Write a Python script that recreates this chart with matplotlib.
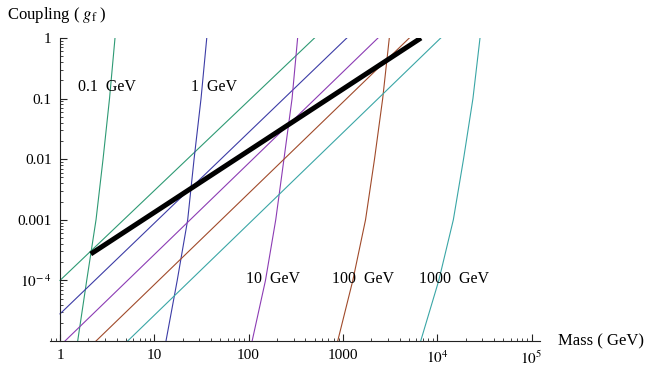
import numpy as np
import matplotlib
matplotlib.use("Agg")
import matplotlib.pyplot as plt
from matplotlib.ticker import LogLocator, NullFormatter

plt.rcParams['font.family'] = ['Liberation Serif', 'DejaVu Serif']
plt.rcParams['mathtext.fontset'] = 'stix'

# mediator masses (GeV) and colours of their curves
mass_labels = ['0.1', '1', '10', '100', '1000']
colors = ['#2e9a74', '#3c3ca6', '#8c3cb4', '#a04a2a', '#3aa6a6']

# steep curves: mass (GeV) where each curve crosses these couplings
g_levels = [1e-5, 1e-4, 1e-3, 1e-2, 1e-1, 1.0]
steep_M = [
    [1.54, 1.92, 2.41, 2.86, 3.35, 3.83],
    [13.3, 17.5, 22.6, 26.4, 31.3, 36.0],
    [109, 151, 194, 237, 289, 331],
    [881, 1274, 1738, 2163, 2642, 3105],
    [6683, 10400, 14830, 19010, 23930, 28440],
]

# diagonal lines: end points (mass, coupling)
diag_M = [[1, 500], [1, 1100], [1.13, 2355], [2.41, 5060], [5.22, 10900]]
diag_g = [[1e-4, 1], [2.8e-5, 1], [1e-5, 1], [1e-5, 1], [1e-5, 1]]

# thick black line
black_M = [2.12, 6730]
black_g = [2.73e-4, 1]

# label centres (mass, coupling)
label_M = [10**0.498, 10**1.638, 10**2.264, 10**3.216, 10**4.183]
label_g = [10**-0.809, 10**-0.809, 10**-3.977, 10**-3.977, 10**-3.977]

yticks = [1e-4, 1e-3, 1e-2, 1e-1, 1]
ytick_labels = [r'$10^{-\,4}$', '0.001', '0.01', '0.1', '1']
xticks = [1, 10, 100, 1000, 1e4, 1e5]
xtick_labels = ['1', '10', '100', '1000', r'$10^{4}$', r'$10^{5}$']

fig = plt.figure(figsize=(6.49, 3.66), dpi=100)
ax = fig.add_axes([50 / 649, 25 / 366, 490 / 649, 303 / 366])
ax.set_xscale('log')
ax.set_yscale('log')
ax.set_xlim(10 ** (-10 / 94.3), 10 ** (480 / 94.3))
ax.set_ylim(1e-5, 1)

for i in range(len(mass_labels)):
    ax.plot(diag_M[i], diag_g[i], color=colors[i], lw=0.8)
    ax.plot(steep_M[i], g_levels, color=colors[i], lw=0.8)

ax.plot(black_M, black_g, color='black', lw=3.6, solid_capstyle='butt')

for i in range(len(mass_labels)):
    ax.text(label_M[i], label_g[i], mass_labels[i] + '  GeV', fontsize=11.5,
            ha='center', va='center')

for s in ['top', 'right']:
    ax.spines[s].set_visible(False)
ax.spines['left'].set_position(('data', 1))
for s in ['left', 'bottom']:
    ax.spines[s].set_linewidth(0.8)
    ax.spines[s].set_color('#222222')

ax.set_yticks(yticks)
ax.set_yticklabels(ytick_labels)
ax.set_xticks(xticks)
ax.set_xticklabels(xtick_labels)
ax.yaxis.set_minor_locator(LogLocator(base=10, subs=np.arange(2, 10), numticks=20))
ax.xaxis.set_minor_locator(LogLocator(base=10, subs=np.arange(2, 10), numticks=20))
ax.yaxis.set_minor_formatter(NullFormatter())
ax.xaxis.set_minor_formatter(NullFormatter())
ax.tick_params(which='major', direction='in', length=5, width=0.8, labelsize=11,
               color='#222222')
ax.tick_params(which='minor', direction='in', length=2.5, width=0.6, color='#222222')
ax.tick_params(axis='y', pad=6)
ax.tick_params(axis='x', pad=6)

fig.text(7 / 649, 1 - 15 / 366, r'Coupling ( $g_{\mathrm{f}}$ )', fontsize=12,
         ha='left', va='center')
fig.text(558 / 649, 1 - 341 / 366, 'Mass ( GeV)', fontsize=12, ha='left', va='center')

fig.savefig('out.png', dpi=100)
